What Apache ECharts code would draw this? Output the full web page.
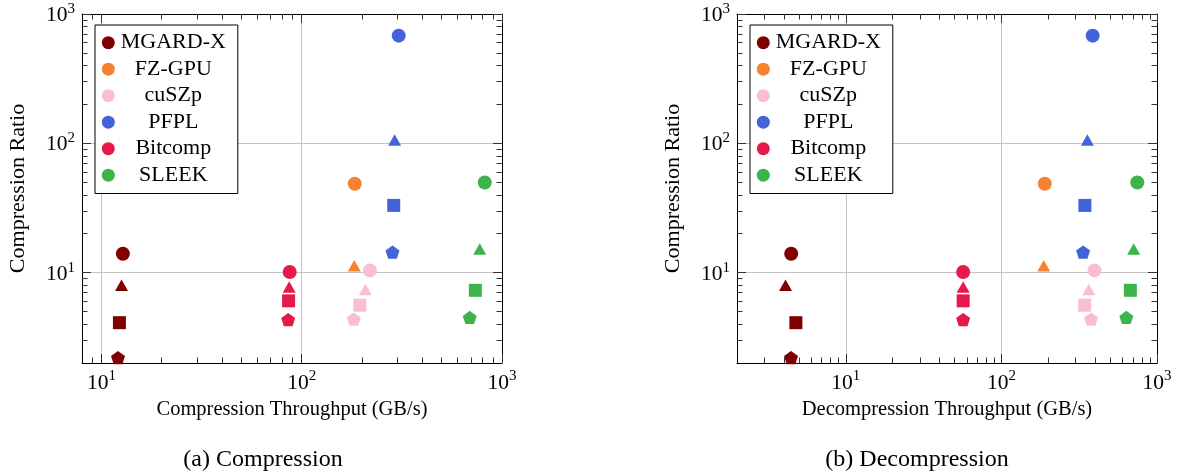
<!DOCTYPE html>
<html>
<head>
<meta charset="utf-8">
<script src="https://cdn.jsdelivr.net/npm/echarts@6/dist/echarts.min.js"></script>
<style>
  html, body { margin: 0; padding: 0; background: #fff; }
  #chart { width: 1178px; height: 472px; }
</style>
</head>
<body>
<div id="chart"></div>
<script>
// Compressors shown in the legend, with their colours
const compressors = ['MGARD-X', 'FZ-GPU', 'cuSZp', 'PFPL', 'Bitcomp', 'SLEEK'];
const colors = ['#800000', '#f58231', '#fabed4', '#4363d8', '#e6194b', '#3cb44b'];

// One marker kind per data set; each row below lists values in this order
const markerKinds = ['circle', 'triangle', 'square', 'pentagon'];

// Compression ratio (null: no result for that data set)
const ratio = [
  [14.0, 8.0, 4.1, 2.2],      // MGARD-X
  [48.7, 11.3, null, null],   // FZ-GPU
  [10.4, 7.4, 5.6, 4.37],     // cuSZp
  [680, 106, 33.1, 14.4],     // PFPL
  [10.1, 7.75, 6.05, 4.33],   // Bitcomp
  [49.7, 15.2, 7.3, 4.5]      // SLEEK
];

// Compression throughput, GB/s
const compThroughput = [
  [12.8, 12.6, 12.3, 12.1],
  [184, 183, null, null],
  [219, 208, 195, 182],
  [305, 291, 288, 284],
  [87.1, 86.6, 86.0, 85.6],
  [820, 774, 736, 690]
];

// Decompression throughput, GB/s
const decompThroughput = [
  [4.46, 4.10, 4.78, 4.45],
  [190, 187, null, null],
  [397, 364, 343, 377],
  [386, 357, 344, 335],
  [56.8, 56.8, 56.8, 56.8],
  [747, 708, 674, 635]
];

// Axis ranges and labelled ticks
const ratioRange = [2, 1000];
const compRange = [8, 1000];
const decompRange = [2, 1000];
const decadeTicks = [10, 100, 1000];

const panelTitles = ['Compression Throughput (GB/s)', 'Decompression Throughput (GB/s)'];
const yTitle = 'Compression Ratio';
const captions = ['(a) Compression', '(b) Decompression'];

const SERIF = '"Liberation Serif", "Times New Roman", serif';

const symbolFor = {
  circle: { symbol: 'circle', size: 14 },
  triangle: { symbol: 'triangle', size: [13, 11.5] },
  square: { symbol: 'rect', size: 13 },
  pentagon: {
    symbol: 'path://M0,-100L95.1,-30.9L58.8,80.9L-58.8,80.9L-95.1,-30.9Z',
    size: [14, 13.3]
  }
};

// minor ticks at 2..9 times each power of ten, strictly inside the range
function minorTicks(range) {
  const out = [];
  for (let d = 1; d < range[1]; d *= 10) {
    for (let k = 2; k <= 9; k++) {
      const v = k * d;
      if (v > range[0] && v < range[1]) out.push(v);
    }
  }
  return out;
}

function powerLabel(v) {
  return '{b|10}{e|' + Math.round(Math.log10(v)) + '}';
}

const labelRich = {
  b: { fontFamily: SERIF, fontSize: 21.5, color: '#000', lineHeight: 25, verticalAlign: 'bottom' },
  e: { fontFamily: SERIF, fontSize: 15, color: '#000', lineHeight: 16, verticalAlign: 'top' }
};

const tickColor = '#333';

// four axes per side pair: labelled main, its minor ticks, mirrored side, its minor ticks
function axisGroup(dim, gridIndex, range, name) {
  const sides = dim === 'x' ? ['bottom', 'top'] : ['left', 'right'];
  const base = {
    type: 'log', logBase: 10, gridIndex,
    min: range[0], max: range[1]
  };
  const majors = decadeTicks.filter(v => v >= range[0] && v <= range[1]);
  const minors = minorTicks(range);
  const list = [];
  sides.forEach((pos, si) => {
    list.push(Object.assign({}, base, {
      position: pos,
      name: si === 0 ? name : '',
      nameLocation: 'middle',
      nameGap: dim === 'x' ? 36 : 53,
      nameTextStyle: { fontFamily: SERIF, fontSize: dim === 'x' ? 20.5 : 22, color: '#000' },
      axisLine: { show: true, onZero: false, lineStyle: { color: '#000', width: 1 } },
      axisTick: { show: true, inside: true, length: 9, customValues: majors,
                  lineStyle: { color: tickColor, width: 1 } },
      axisLabel: si === 0 ? {
        show: true, customValues: majors, margin: dim === 'x' ? 6 : 7,
        formatter: powerLabel, rich: labelRich
      } : { show: false },
      splitLine: si === 0 ? { show: true, lineStyle: { color: '#c4c4c4', width: 1 } } : { show: false },
      minorTick: { show: false }
    }));
    list.push(Object.assign({}, base, {
      position: pos,
      axisLine: { show: false, onZero: false },
      axisTick: { show: true, inside: true, length: 5.5, customValues: minors,
                  lineStyle: { color: tickColor, width: 1 } },
      axisLabel: { show: false },
      splitLine: { show: false }
    }));
  });
  return list;
}

const grids = [
  { left: 82, top: 14, width: 420, height: 349 },
  { left: 737, top: 14, width: 420, height: 349 }
];

const xAxes = [].concat(
  axisGroup('x', 0, compRange, panelTitles[0]),
  axisGroup('x', 1, decompRange, panelTitles[1])
);
const yAxes = [].concat(
  axisGroup('y', 0, ratioRange, yTitle),
  axisGroup('y', 1, ratioRange, yTitle)
);

const throughputs = [compThroughput, decompThroughput];
const series = [];
throughputs.forEach((tp, p) => {
  compressors.forEach((name, c) => {
    const data = [];
    markerKinds.forEach((kind, k) => {
      const x = tp[c][k], y = ratio[c][k];
      if (x == null || y == null) return;
      data.push({ value: [x, y], symbol: symbolFor[kind].symbol, symbolSize: symbolFor[kind].size });
    });
    series.push({
      type: 'scatter', name,
      xAxisIndex: p * 4, yAxisIndex: p * 4,
      data,
      itemStyle: { color: colors[c], opacity: 1 },
      emphasis: { disabled: true },
      z: 3
    });
  });
});

function legendAt(left) {
  return {
    data: compressors,
    orient: 'vertical',
    left, top: 25,
    icon: 'circle',
    itemWidth: 13, itemHeight: 13, itemGap: 4.5,
    padding: [6.7, 11, 7.3, 6.8],
    borderColor: '#000', borderWidth: 1,
    backgroundColor: '#fff',
    selectedMode: false,
    formatter: n => '{n|' + n + '}',
    textStyle: {
      fontFamily: SERIF, fontSize: 22, color: '#000',
      rich: { n: { fontFamily: SERIF, fontSize: 22, color: '#000', width: 107, align: 'center', lineHeight: 22 } }
    }
  };
}

const chart = echarts.init(document.getElementById('chart'), null, { renderer: 'canvas' });
chart.setOption({
  animation: false,
  backgroundColor: '#fff',
  grid: grids,
  xAxis: xAxes,
  yAxis: yAxes,
  legend: [legendAt(95), legendAt(750)],
  series,
  graphic: [
    { type: 'text', x: 263, y: 460,
      style: { text: captions[0], font: '24px ' + SERIF, fill: '#000', align: 'center', verticalAlign: 'middle' } },
    { type: 'text', x: 917, y: 460,
      style: { text: captions[1], font: '24px ' + SERIF, fill: '#000', align: 'center', verticalAlign: 'middle' } }
  ]
});
</script>
</body>
</html>
